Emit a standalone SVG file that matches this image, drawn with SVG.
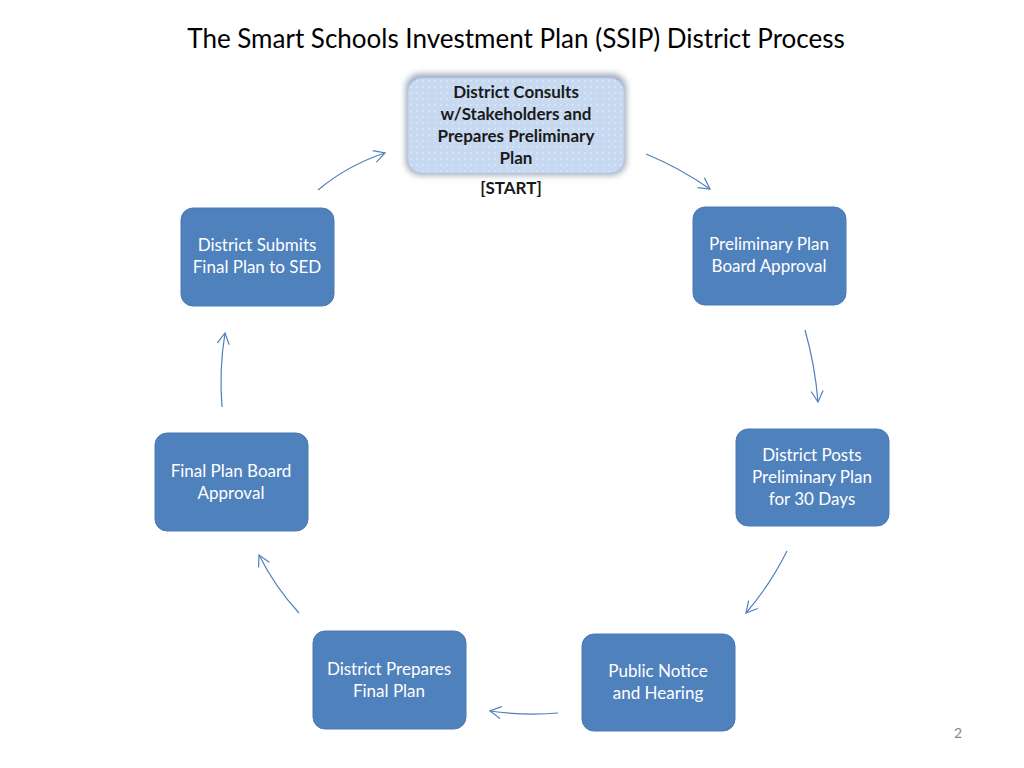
<svg xmlns="http://www.w3.org/2000/svg" width="1024" height="768" viewBox="0 0 1024 768">
<style>
.n{fill:#4f81bd;stroke:#4a7ab3;stroke-width:1}
.t{font-family:Lato,"Open Sans",sans-serif;font-size:17px;fill:#fff;text-anchor:middle}
.c{fill:none;stroke:#4f81bd;stroke-width:1.2;marker-end:url(#a)}
</style>
<defs>
<marker id="a" markerWidth="14" markerHeight="14" refX="12" refY="7" orient="auto" markerUnits="userSpaceOnUse">
<path d="M1,1 L12,7 L1,13" fill="none" stroke="#4f81bd" stroke-width="1.2"/>
</marker>
<pattern id="d" width="6" height="6" patternUnits="userSpaceOnUse">
<rect width="6" height="6" fill="#c6d9f1"/>
<circle cx="3" cy="3" r="0.8" fill="#e8f0fa"/>
</pattern>
<filter id="g" x="-20%" y="-20%" width="140%" height="140%">
<feGaussianBlur stdDeviation="3"/>
</filter>
</defs>
<rect width="1024" height="768" fill="#fff"/>
<text x="516" y="48" font-family="Lato,'Open Sans',sans-serif" font-size="26" fill="#000" text-anchor="middle">The Smart Schools Investment Plan (SSIP) District Process</text>
<g id="n1">
<rect x="406" y="74" width="220" height="101" rx="14" fill="#9aa6b8" filter="url(#g)"/>
<rect x="408" y="78" width="216" height="95" rx="14" fill="url(#d)" stroke="#b9cde6"/>
<g font-family="Lato,'Open Sans',sans-serif" font-size="17" font-weight="bold" fill="#1a1a1a" text-anchor="middle">
<text x="516" y="98">District Consults</text>
<text x="516" y="120">w/Stakeholders and</text>
<text x="516" y="142">Prepares Preliminary</text>
<text x="516" y="164">Plan</text>
<text x="511" y="194">[START]</text>
</g>
</g>
<g id="n2"><rect class="n" x="693" y="207" width="153" height="98" rx="12"/>
<text class="t" x="769" y="250">Preliminary Plan</text><text class="t" x="769" y="272">Board Approval</text></g>
<g id="n3"><rect class="n" x="736" y="429" width="153" height="97" rx="12"/>
<text class="t" x="812" y="461">District Posts</text><text class="t" x="812" y="483">Preliminary Plan</text><text class="t" x="812" y="505">for 30 Days</text></g>
<g id="n4"><rect class="n" x="582" y="634" width="153" height="97" rx="12"/>
<text class="t" x="658" y="677">Public Notice</text><text class="t" x="658" y="699">and Hearing</text></g>
<g id="n5"><rect class="n" x="313" y="631" width="153" height="98" rx="12"/>
<text class="t" x="389" y="675">District Prepares</text><text class="t" x="389" y="697">Final Plan</text></g>
<g id="n6"><rect class="n" x="155" y="433" width="153" height="98" rx="12"/>
<text class="t" x="231" y="477">Final Plan Board</text><text class="t" x="231" y="499">Approval</text></g>
<g id="n7"><rect class="n" x="181" y="208" width="153" height="98" rx="12"/>
<text class="t" x="257" y="251">District Submits</text><text class="t" x="257" y="273">Final Plan to SED</text></g>
<g id="connectors">
<path class="c" d="M318,190 Q348,165 385,153"/>
<path class="c" d="M646,154 Q680,168 710,189"/>
<path class="c" d="M805,330 Q815,365 818,402"/>
<path class="c" d="M787,551 Q770,585 746,613"/>
<path class="c" d="M558,713 Q525,716 490,711"/>
<path class="c" d="M299,613 Q275,587 259,555"/>
<path class="c" d="M222,407 Q219,370 225,333"/>
</g>
<text x="958" y="738" font-family="Lato,sans-serif" font-size="14" fill="#888" text-anchor="middle">2</text>
</svg>
